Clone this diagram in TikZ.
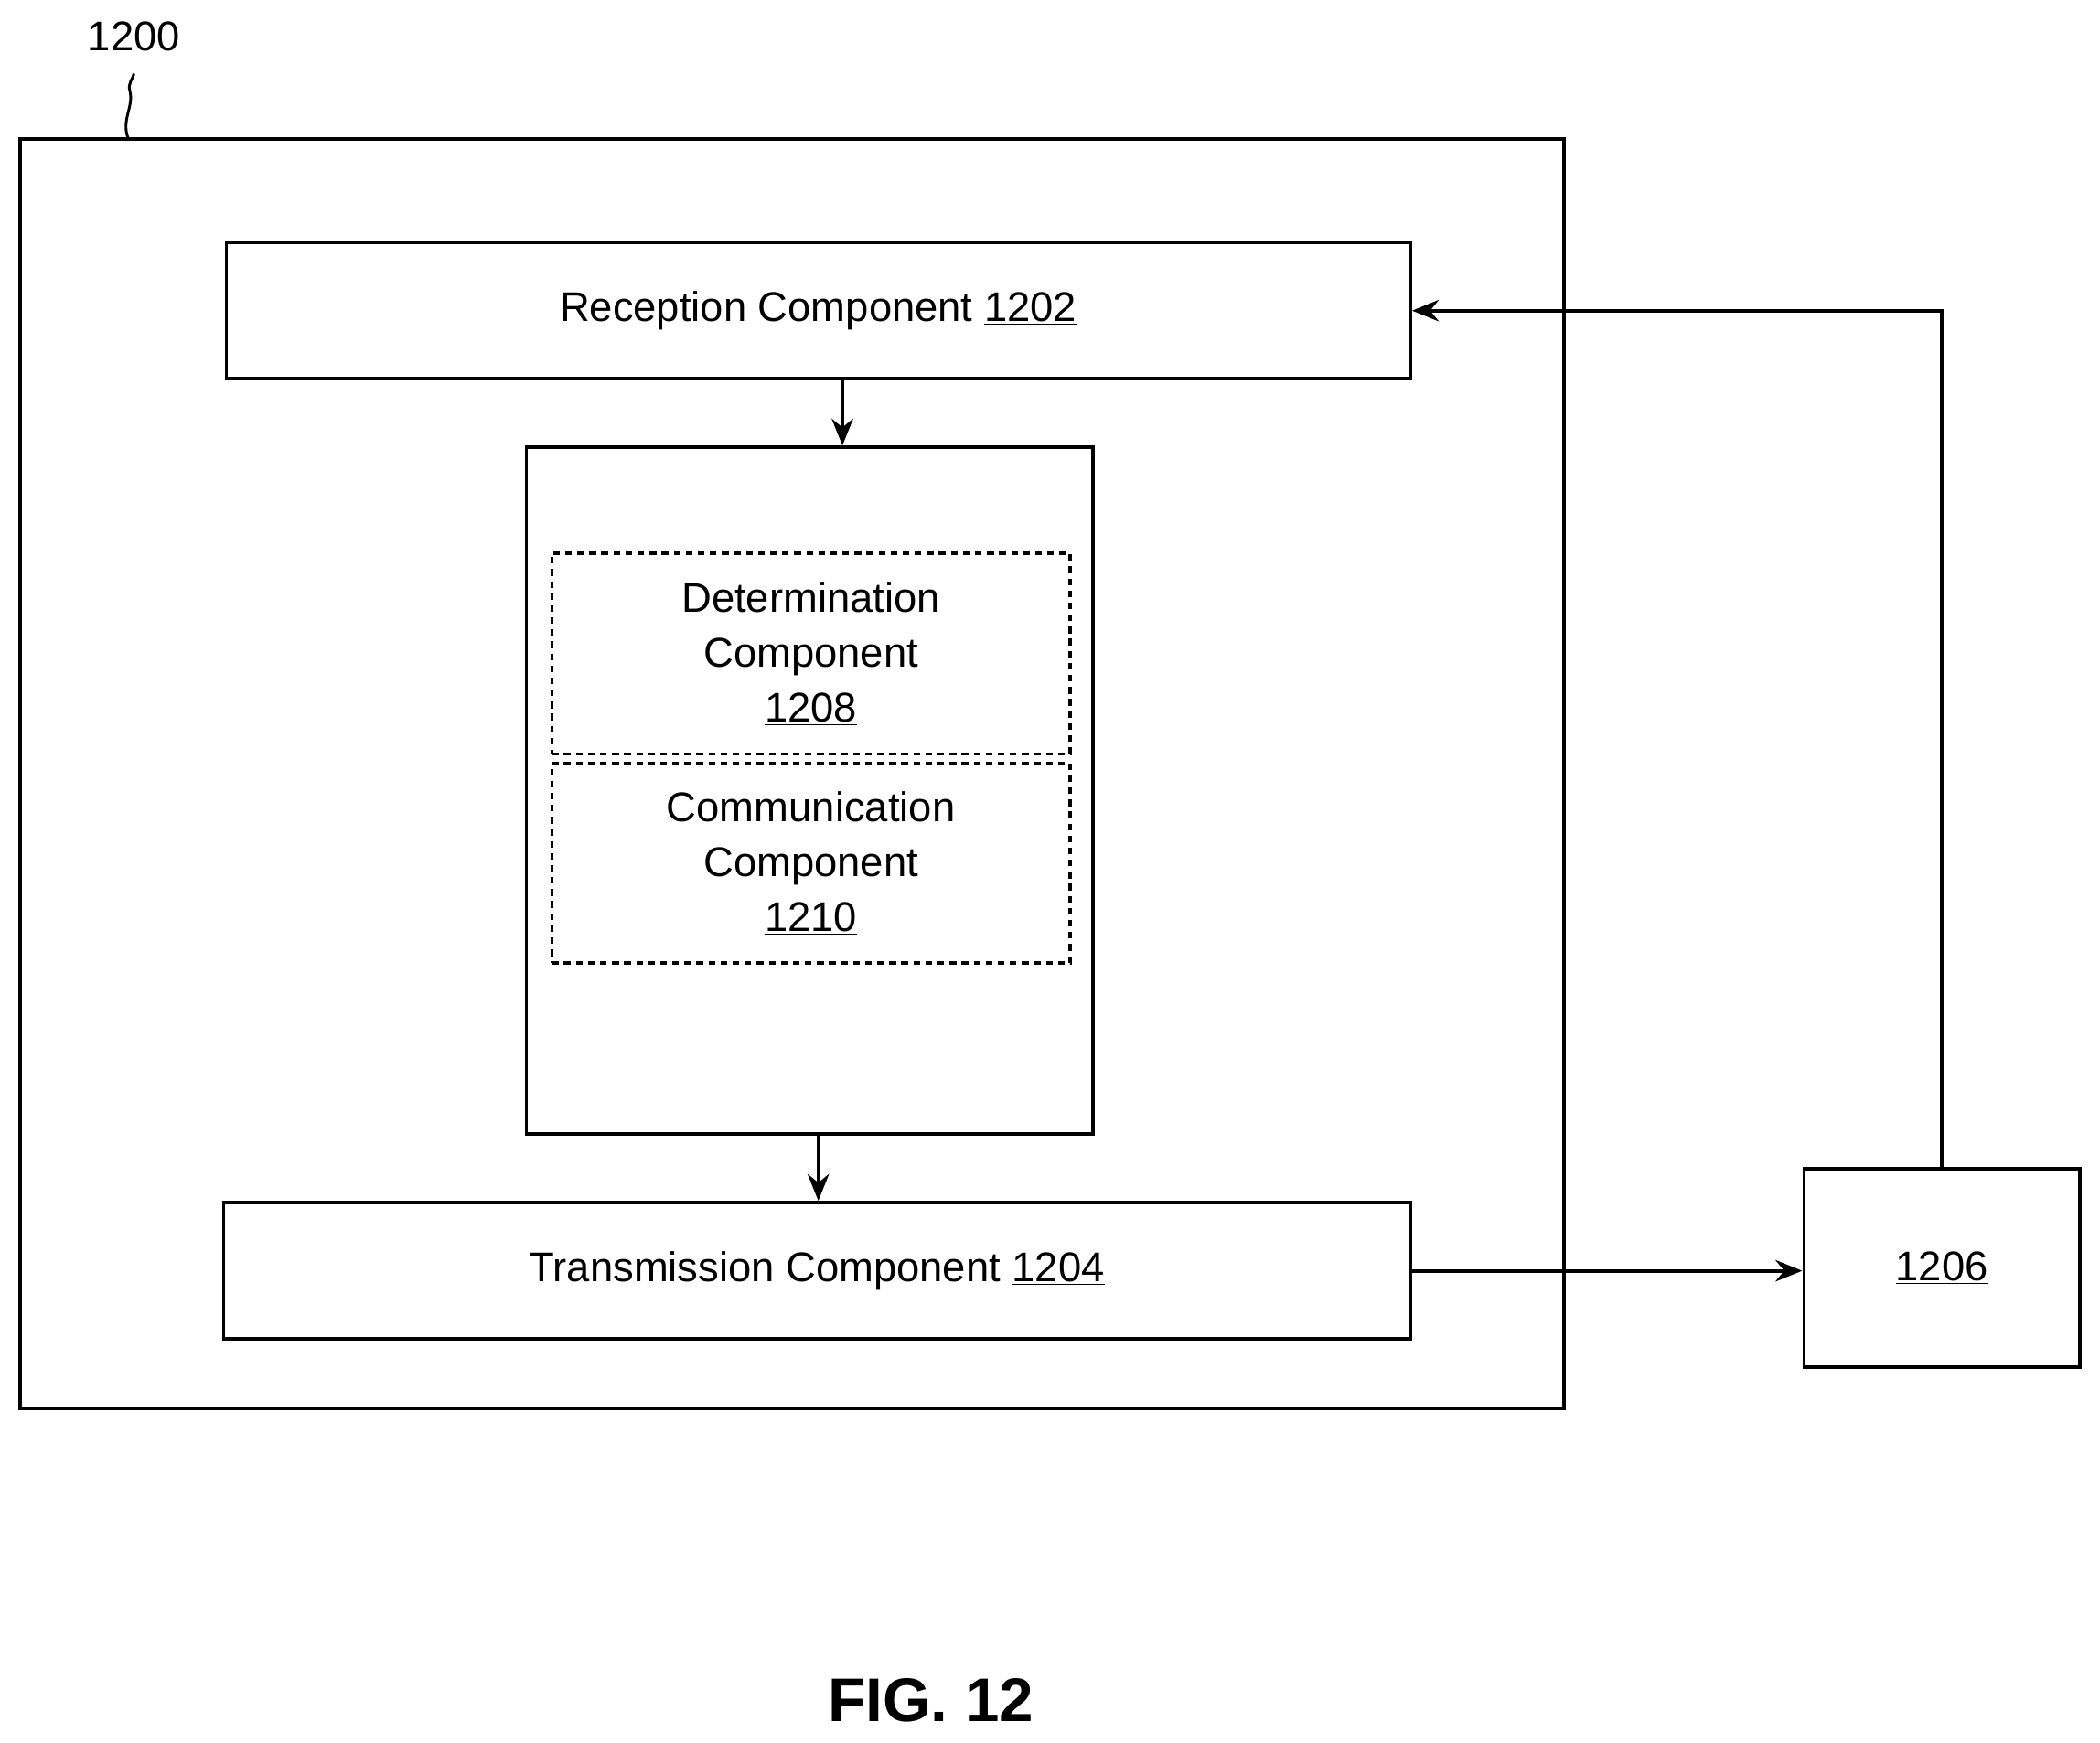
\documentclass[tikz,border=0pt]{standalone}
\usepackage{fontspec}
\setmainfont{Liberation Sans}
\usetikzlibrary{arrows.meta}
\begin{document}
\begin{tikzpicture}[x=1pt,y=-1pt,
  box/.style={draw,line width=2.6pt,inner sep=0pt},
  dbox/.style={draw,line width=2.4pt,dash pattern=on 5pt off 4pt,inner sep=0pt},
  txt/.style={font=\fontsize{31}{41}\selectfont,align=center},
  arr/.style={line width=2.6pt,-{Stealth[length=20pt,width=16pt]}}]
\useasboundingbox (0,0) rectangle (1568,1301);
\node[box,minimum width=1153pt,minimum height=948pt] (outer) at (591.5,578) {};
\node[box,minimum width=884pt,minimum height=102pt,txt] (rx) at (611,232) {Reception Component \underline{1202}};
\node[box,minimum width=423pt,minimum height=513pt] (mid) at (604.5,590.5) {};
\node[dbox,minimum width=387pt,minimum height=150pt,txt] (det) at (605.5,488) {Determination\\Component\\\underline{1208}};
\node[dbox,minimum width=387pt,minimum height=149pt,txt] (com) at (605.5,644.5) {Communication\\Component\\\underline{1210}};
\node[box,minimum width=886pt,minimum height=102pt,txt] (tx) at (610,949) {Transmission Component \underline{1204}};
\node[box,minimum width=206pt,minimum height=148pt,txt] (ext) at (1450,947) {\underline{1206}};
\node[txt] (lbl) at (100,27) {1200};
\node[font=\bfseries\fontsize{46}{50}\selectfont] (fig) at (695,1270) {FIG. 12};
\coordinate (sq) at (96,104);
\draw[line width=2pt] (sq) .. controls (90,90) and (100,80) .. (97,68) .. controls (95,62) and (100,58) .. (100,55);
\draw[arr] (rx.south -| 629,0) -- (mid.north -| 629,0);
\draw[arr] (mid.south -| 611,0) -- (tx.north -| 611,0);
\draw[arr] (tx.east) -- (ext.west |- tx.east);
\draw[arr] (ext.north) |- (rx.east);
\end{tikzpicture}
\end{document}
